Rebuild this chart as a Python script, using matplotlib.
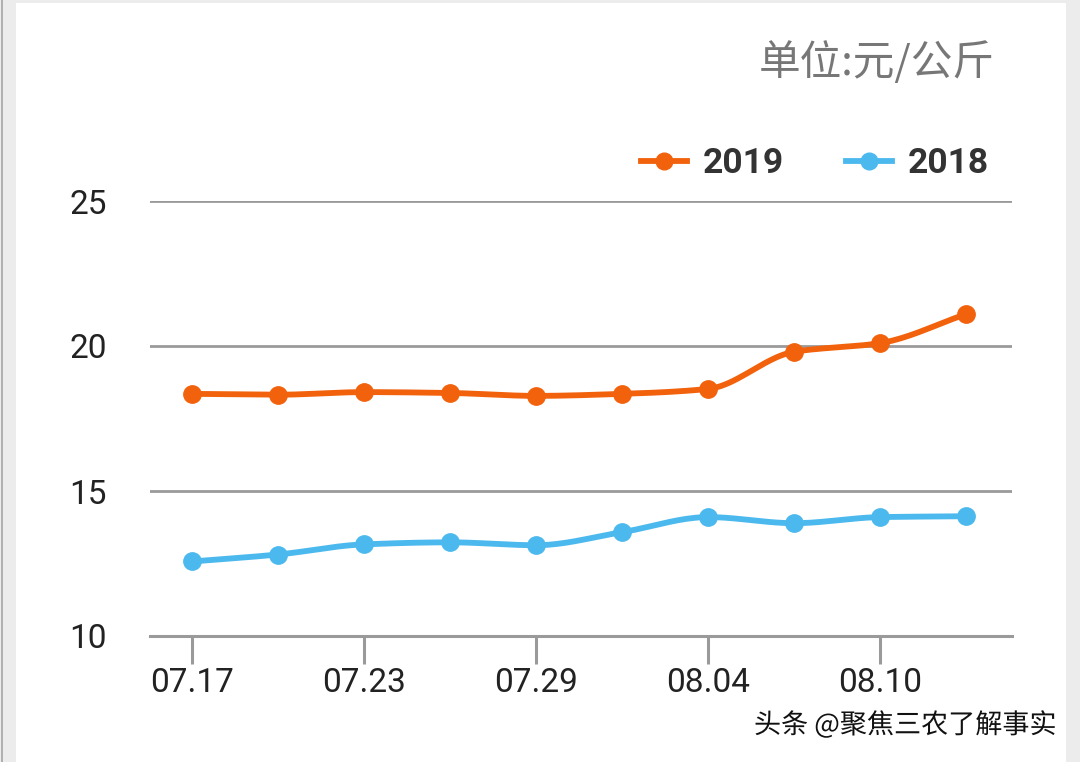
import matplotlib
matplotlib.use("Agg")
import matplotlib.pyplot as plt
from matplotlib.patches import Rectangle
import matplotlib.patheffects as pe
import numpy as np

# data: price every 3 days, day 0 = 07.17
days = [0, 3, 6, 9, 12, 15, 18, 21, 24, 27]
price_2019 = [18.35, 18.32, 18.41, 18.38, 18.28, 18.35, 18.52, 19.80, 20.10, 21.10]
price_2018 = [12.57, 12.81, 13.16, 13.23, 13.13, 13.58, 14.10, 13.89, 14.10, 14.13]
tick_days = [0, 6, 12, 18, 24]
tick_labels = ["07.17", "07.23", "07.29", "08.04", "08.10"]
y_ticks = [10, 15, 20, 25]

ORANGE = "#f2620c"
BLUE = "#4cb9ee"
GRID = "#9a9a9a"


def smooth(x, y, n=20):
    # monotone cubic (Fritsch-Carlson) just for drawing the line
    x = np.asarray(x, float)
    y = np.asarray(y, float)
    h = np.diff(x)
    d = np.diff(y) / h
    m = np.zeros_like(y)
    m[0], m[-1] = d[0], d[-1]
    for i in range(1, len(y) - 1):
        if d[i - 1] * d[i] <= 0:
            m[i] = 0
        else:
            w1 = 2 * h[i] + h[i - 1]
            w2 = h[i] + 2 * h[i - 1]
            m[i] = (w1 + w2) / (w1 / d[i - 1] + w2 / d[i])
    xs, ys = [], []
    for i in range(len(x) - 1):
        t = np.linspace(0, 1, n, endpoint=False)
        h00 = 2 * t**3 - 3 * t**2 + 1
        h10 = t**3 - 2 * t**2 + t
        h01 = -2 * t**3 + 3 * t**2
        h11 = t**3 - t**2
        xs.append(x[i] + t * h[i])
        ys.append(h00 * y[i] + h10 * h[i] * m[i] + h01 * y[i + 1] + h11 * h[i] * m[i + 1])
    xs.append([x[-1]])
    ys.append([y[-1]])
    return np.concatenate(xs), np.concatenate(ys)


plt.rcParams['font.family'] = ['Roboto', 'Noto Sans CJK SC', 'DejaVu Sans']

fig = plt.figure(figsize=(10.8, 7.62), dpi=100, facecolor="#ececec")
fig.patches.append(Rectangle((16 / 1080, 0), (1066 - 16) / 1080, 759 / 762,
                             transform=fig.transFigure, facecolor="white",
                             edgecolor="none", zorder=-10))
fig.patches.append(Rectangle((1 / 1080, 0), 2 / 1080, 1, transform=fig.transFigure,
                             facecolor="#b0b0b0", edgecolor="none", zorder=-10))

ax = fig.add_axes([150 / 1080, 126 / 762, 862 / 1080, 435 / 762])
ax.set_facecolor("none")

for yv, col, lab in [(price_2019, ORANGE, "2019"), (price_2018, BLUE, "2018")]:
    sx, sy = smooth(days, yv)
    ax.plot(sx, sy, color=col, lw=4.2, solid_capstyle="round", zorder=3)
    ax.plot(days, yv, "o", color=col, ms=12.5, zorder=4)
    ax.plot([], [], color=col, lw=4.2, marker="o", ms=12, label=lab)

ax.set_xlim(-1.465, 28.6)
ax.set_ylim(10, 25)
ax.set_yticks(y_ticks)
ax.set_yticklabels([str(v) for v in y_ticks], fontsize=24, color="#222222")
ax.set_xticks(tick_days)
ax.set_xticklabels(tick_labels, fontsize=24, color="#222222")
ax.tick_params(axis="y", length=0, pad=31)
ax.tick_params(axis="x", length=20, width=2.2, color=GRID, direction="out", pad=2)
for yv in y_ticks[1:]:
    ax.axhline(yv, color=GRID, lw=2, zorder=1)
for s in ["top", "right", "left"]:
    ax.spines[s].set_visible(False)
ax.spines["bottom"].set_color(GRID)
ax.spines["bottom"].set_linewidth(2.2)

leg = ax.legend(loc="lower right", bbox_to_anchor=(0.99, 1.015), ncol=2, frameon=False,
                handlelength=1.3, handletextpad=0.45, columnspacing=1.75,
                prop={"family": "Roboto", "weight": "bold", "size": 25.5}, borderaxespad=0)
for t in leg.get_texts():
    t.set_color("#333333")

fig.text(995 / 1080, 1 - 63 / 762, "单位:元/公斤", ha="right", va="center",
         fontsize=30, color="#777777", family=["Noto Sans CJK SC", "DejaVu Sans"])
fig.text(1057 / 1080, 1 - 725 / 762, "头条 @聚焦三农了解事实", ha="right", va="center",
         fontsize=19.5, color="#111111", family=["Noto Sans CJK SC", "DejaVu Sans"],
         path_effects=[pe.withStroke(linewidth=2.5, foreground="white")])

fig.savefig("out.png", dpi=100, facecolor=fig.get_facecolor())
